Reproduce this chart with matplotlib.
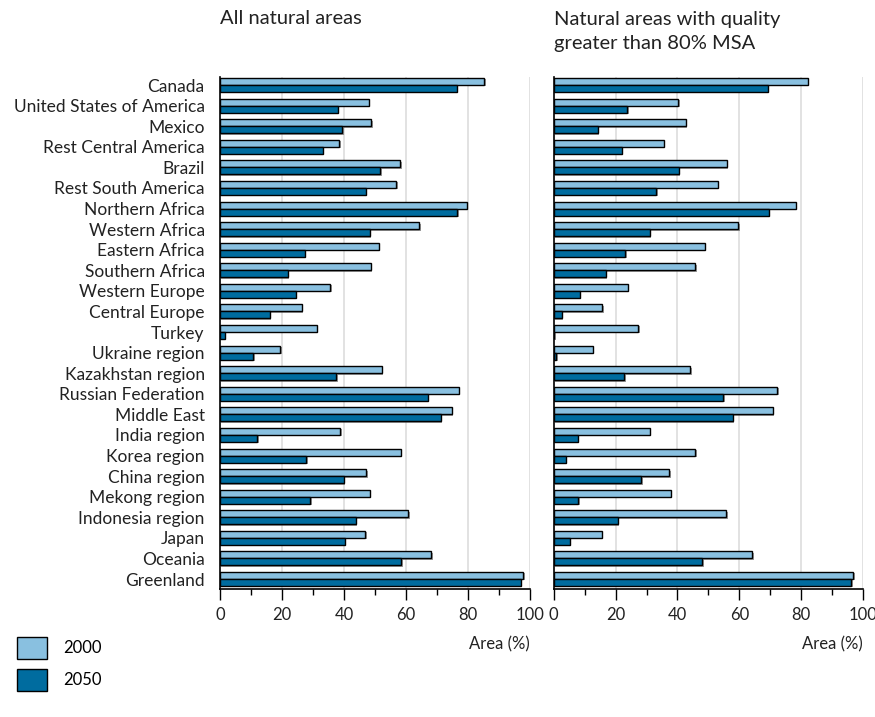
import matplotlib.pyplot as plt
import matplotlib.patheffects as pe
from matplotlib.ticker import MultipleLocator
import numpy as np

plt.rcParams['font.family'] = ['Lato', 'DejaVu Sans']

# Regionen und Werte (Flächenanteil in %)
regions = [
    'Canada', 'United States of America', 'Mexico', 'Rest Central America',
    'Brazil', 'Rest South America', 'Northern Africa', 'Western Africa',
    'Eastern Africa', 'Southern Africa', 'Western Europe', 'Central Europe',
    'Turkey', 'Ukraine region', 'Kazakhstan region', 'Russian Federation',
    'Middle East', 'India region', 'Korea region', 'China region',
    'Mekong region', 'Indonesia region', 'Japan', 'Oceania', 'Greenland',
]

all_2000 = [85.3, 48.1, 48.8, 38.5, 58.2, 56.9, 79.7, 64.3, 51.2, 48.6,
            35.6, 26.3, 31.3, 19.5, 52.2, 77.0, 74.7, 38.8, 58.4, 47.2,
            48.3, 60.8, 46.9, 68.2, 97.8]
all_2050 = [76.3, 38.1, 39.5, 33.2, 51.7, 47.1, 76.6, 48.4, 27.4, 21.8,
            24.5, 16.0, 1.6, 10.8, 37.5, 67.0, 71.3, 12.1, 27.8, 39.9,
            29.1, 43.8, 40.2, 58.5, 97.0]

msa_2000 = [82.2, 40.2, 42.6, 35.5, 55.9, 53.1, 78.2, 59.7, 48.9, 45.7,
            24.0, 15.7, 27.4, 12.7, 44.1, 72.3, 70.8, 31.0, 45.8, 37.3,
            37.9, 55.8, 15.5, 64.2, 96.8]
msa_2050 = [69.1, 23.8, 14.3, 22.1, 40.5, 33.2, 69.6, 31.1, 23.1, 16.9,
            8.5, 2.7, 0.2, 0.8, 22.8, 54.8, 57.8, 7.7, 3.9, 28.3,
            7.9, 20.8, 5.2, 48.0, 96.1]

light = '#89c0e0'
dark = '#006c9f'
txt = '#222222'
shadow = [pe.SimplePatchShadow(offset=(1, -1), shadow_rgbFace='#555555', alpha=0.6),
          pe.Normal()]

fig = plt.figure(figsize=(8.75, 7.17), dpi=100)
ax1 = fig.add_axes([0.2514, 0.1789, 0.3543, 0.7137])
ax2 = fig.add_axes([0.6328, 0.1789, 0.3537, 0.7137])

y = np.arange(len(regions))
h = 0.34

def draw_panel(ax, v2000, v2050, show_labels):
    b1 = ax.barh(y - h / 2, v2000, height=h, color=light, edgecolor='black',
                 linewidth=1, zorder=3, label='2000')
    b2 = ax.barh(y + h / 2, v2050, height=h, color=dark, edgecolor='black',
                 linewidth=1, zorder=3, label='2050')
    for b in list(b1) + list(b2):
        b.set_path_effects(shadow)
    ax.set_xlim(0, 100)
    ax.set_ylim(len(regions) - 0.53, -0.39)
    ax.set_yticks(y)
    if show_labels:
        ax.set_yticklabels(regions, fontsize=12.5, color=txt)
    else:
        ax.set_yticklabels([])
    ax.tick_params(axis='y', length=0, pad=11)
    ax.xaxis.set_major_locator(MultipleLocator(20))
    ax.xaxis.set_minor_locator(MultipleLocator(10))
    ax.tick_params(axis='x', which='major', length=8, width=1, labelsize=12,
                   pad=5, colors='black', labelcolor=txt)
    ax.tick_params(axis='x', which='minor', length=4, width=1)
    for x in range(20, 101, 20):
        ax.axvline(x, color='#dddddd', linewidth=1.2, zorder=1)
    ax.spines['top'].set_visible(False)
    ax.spines['right'].set_visible(False)
    ax.spines['left'].set_linewidth(1.2)
    ax.spines['bottom'].set_linewidth(1.2)
    ax.set_xlabel('Area (%)', fontsize=12, color=txt, loc='right', labelpad=10)
    return b1, b2

b1, b2 = draw_panel(ax1, all_2000, all_2050, True)
draw_panel(ax2, msa_2000, msa_2050, False)

# Titel über den Panels
fig.text(220 / 875, 1 - 18 / 717, 'All natural areas', fontsize=14.5,
         va='center', ha='left', color=txt)
fig.text(554 / 875, 1 - 31 / 717, 'Natural areas with quality\ngreater than 80% MSA',
         fontsize=14.5, va='center', ha='left', color=txt, linespacing=1.5)

# Legende unten links
fig.legend([b1, b2], ['2000', '2050'], loc='upper left',
           bbox_to_anchor=(17 / 875, 1 - 637 / 717), frameon=False,
           borderaxespad=0, borderpad=0,
           handlelength=1.8, handleheight=1.65, labelspacing=0.6,
           handletextpad=0.95, fontsize=12)

fig.savefig('out.png', dpi=100)
